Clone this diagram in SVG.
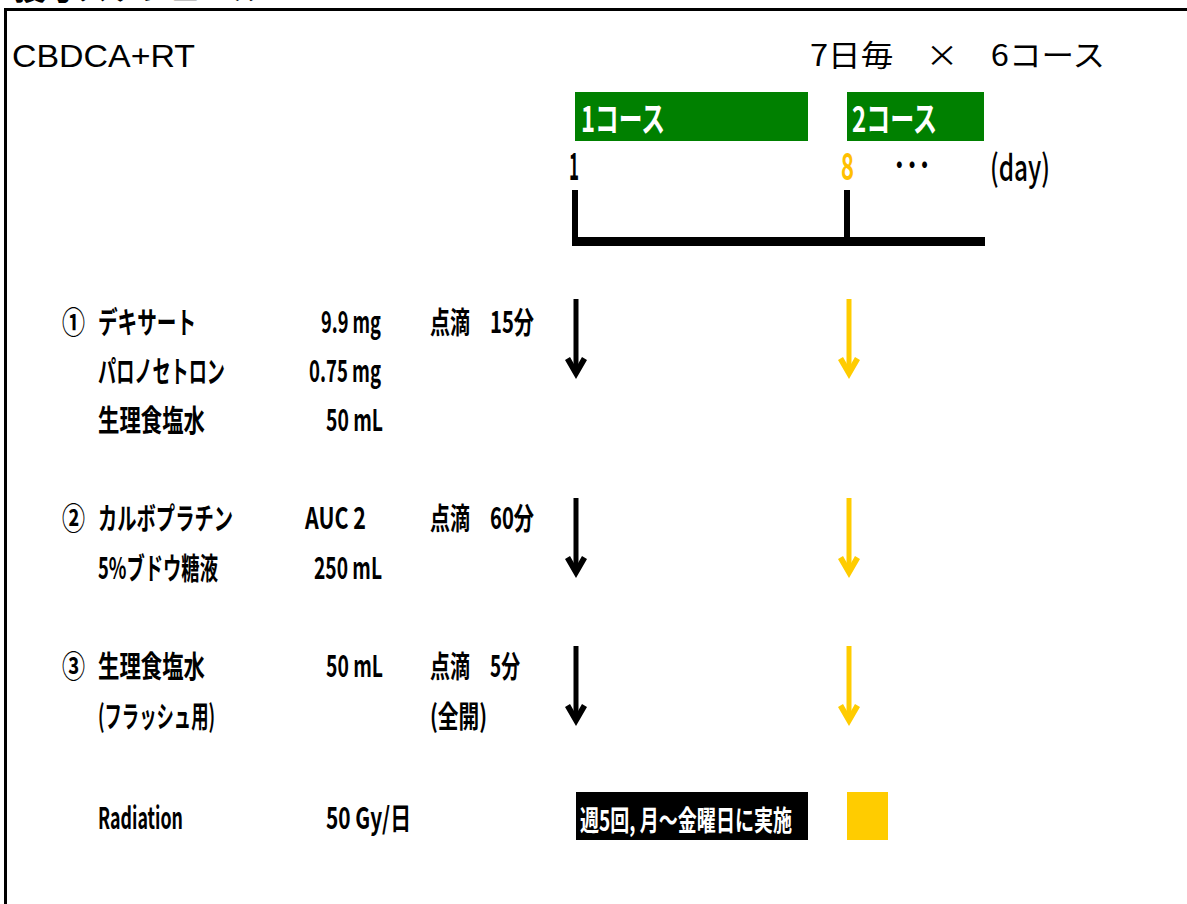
<svg xmlns="http://www.w3.org/2000/svg" width="1187" height="904" viewBox="0 0 1187 904">
<style>
.t{font-family:"Noto Sans CJK JP","Liberation Sans",sans-serif;font-weight:700;font-size:30px;fill:#000}
.h{font-family:"Noto Sans CJK JP","Liberation Sans",sans-serif;font-weight:400;font-size:30px;fill:#000}
.n{font-weight:500}
.w{fill:#fff}
.o{fill:#FFC000}
.blk{stroke:#000;stroke-width:5;fill:none}
.yel{stroke:#FFCC00;stroke-width:5;fill:none}
</style>
<defs>
<marker id="ab" viewBox="0 0 24 22" markerWidth="24" markerHeight="22" refX="17" refY="11" markerUnits="userSpaceOnUse" orient="auto"><path d="M22,11 L3,0 L0,5 L10.4,11 L0,17 L3,22 Z" fill="#000"/></marker>
<marker id="ay" viewBox="0 0 24 22" markerWidth="24" markerHeight="22" refX="17" refY="11" markerUnits="userSpaceOnUse" orient="auto"><path d="M22,11 L3,0 L0,5 L10.4,11 L0,17 L3,22 Z" fill="#FFCC00"/></marker>
</defs>
<rect width="1187" height="904" fill="#fff"/>
<text class="t" x="14" y="0" style="font-size:26px" textLength="250" lengthAdjust="spacingAndGlyphs">投与スケジュール</text>
<rect x="5.5" y="9.5" width="1190" height="900" fill="none" stroke="#000" stroke-width="3"/>

<g id="header">
<text x="12" y="67" font-family="Liberation Sans, Arial, sans-serif" font-size="32" textLength="183" lengthAdjust="spacingAndGlyphs">CBDCA+RT</text>
<text class="h" x="810" y="66" textLength="295" lengthAdjust="spacingAndGlyphs">7日毎　×　6コース</text>
</g>

<g id="course1">
<rect x="575" y="92" width="233" height="49" fill="#008000"/>
<text class="t w" x="581" y="132" style="font-size:35px" textLength="84" lengthAdjust="spacingAndGlyphs">1コース</text>
</g>
<g id="course2">
<rect x="847" y="92" width="137" height="49" fill="#008000"/>
<text class="t w" x="852" y="132" style="font-size:35px" textLength="85" lengthAdjust="spacingAndGlyphs">2コース</text>
</g>

<g id="timeline">
<text class="t" x="569" y="180" style="font-size:38px" textLength="10" lengthAdjust="spacingAndGlyphs">1</text>
<text class="t o" x="841" y="180" style="font-size:38px" textLength="13" lengthAdjust="spacingAndGlyphs">8</text>
<text class="t" x="893" y="178" style="font-size:34px" textLength="38" lengthAdjust="spacingAndGlyphs">･･･</text>
<text class="t n" x="990" y="181" style="font-size:36px" textLength="60" lengthAdjust="spacingAndGlyphs">(day)</text>
<rect x="572" y="190" width="6" height="56" fill="#000"/>
<rect x="844" y="190" width="6" height="50" fill="#000"/>
<rect x="572" y="237" width="413" height="9" fill="#000"/>
</g>

<g id="drug1">
<text class="t" x="62" y="333" textLength="23" lengthAdjust="spacingAndGlyphs">①</text>
<text class="t" x="98" y="333" textLength="98" lengthAdjust="spacingAndGlyphs">デキサート</text>
<text class="t" x="321" y="333" textLength="60" lengthAdjust="spacingAndGlyphs">9.9 mg</text>
<text class="t" x="430" y="333" textLength="40" lengthAdjust="spacingAndGlyphs">点滴</text>
<text class="t" x="490" y="333" textLength="44" lengthAdjust="spacingAndGlyphs">15分</text>
<text class="t" x="98" y="382" textLength="127" lengthAdjust="spacingAndGlyphs">パロノセトロン</text>
<text class="t" x="309" y="382" textLength="72" lengthAdjust="spacingAndGlyphs">0.75 mg</text>
<text class="t" x="98" y="431" textLength="107" lengthAdjust="spacingAndGlyphs">生理食塩水</text>
<text class="t" x="326" y="431" textLength="57" lengthAdjust="spacingAndGlyphs">50 mL</text>
</g>

<g id="drug2">
<text class="t" x="62" y="529" textLength="23" lengthAdjust="spacingAndGlyphs">②</text>
<text class="t" x="98" y="529" textLength="135" lengthAdjust="spacingAndGlyphs">カルボプラチン</text>
<text class="t" x="305" y="529" textLength="61" lengthAdjust="spacingAndGlyphs">AUC 2</text>
<text class="t" x="430" y="529" textLength="40" lengthAdjust="spacingAndGlyphs">点滴</text>
<text class="t" x="490" y="529" textLength="44" lengthAdjust="spacingAndGlyphs">60分</text>
<text class="t" x="98" y="579" textLength="120" lengthAdjust="spacingAndGlyphs">5%ブドウ糖液</text>
<text class="t" x="314" y="579" textLength="68" lengthAdjust="spacingAndGlyphs">250 mL</text>
</g>

<g id="drug3">
<text class="t" x="62" y="677" textLength="23" lengthAdjust="spacingAndGlyphs">③</text>
<text class="t" x="98" y="677" textLength="107" lengthAdjust="spacingAndGlyphs">生理食塩水</text>
<text class="t" x="326" y="677" textLength="57" lengthAdjust="spacingAndGlyphs">50 mL</text>
<text class="t" x="430" y="677" textLength="40" lengthAdjust="spacingAndGlyphs">点滴</text>
<text class="t" x="490" y="677" textLength="30" lengthAdjust="spacingAndGlyphs">5分</text>
<text class="t" x="98" y="727" textLength="117" lengthAdjust="spacingAndGlyphs">(フラッシュ用)</text>
<text class="t" x="430" y="727" textLength="57" lengthAdjust="spacingAndGlyphs">(全開)</text>
</g>

<g id="radiation">
<text class="t" x="98" y="829" textLength="85" lengthAdjust="spacingAndGlyphs">Radiation</text>
<text class="t" x="326" y="829" textLength="85" lengthAdjust="spacingAndGlyphs">50 Gy/日</text>
<rect x="576" y="792" width="232" height="48" fill="#000"/>
<text class="t w" x="580" y="831" style="font-size:28px" textLength="212" lengthAdjust="spacingAndGlyphs">週5回, 月～金曜日に実施</text>
<rect x="847" y="792" width="41" height="48" fill="#FFCC00"/>
</g>

<g id="connectors">
<line class="blk" x1="576" y1="299" x2="576" y2="374" marker-end="url(#ab)"/>
<line class="yel" x1="849" y1="299" x2="849" y2="374" marker-end="url(#ay)"/>
<line class="blk" x1="576" y1="498" x2="576" y2="573" marker-end="url(#ab)"/>
<line class="yel" x1="849" y1="498" x2="849" y2="573" marker-end="url(#ay)"/>
<line class="blk" x1="576" y1="646" x2="576" y2="721" marker-end="url(#ab)"/>
<line class="yel" x1="849" y1="646" x2="849" y2="721" marker-end="url(#ay)"/>
</g>
</svg>
